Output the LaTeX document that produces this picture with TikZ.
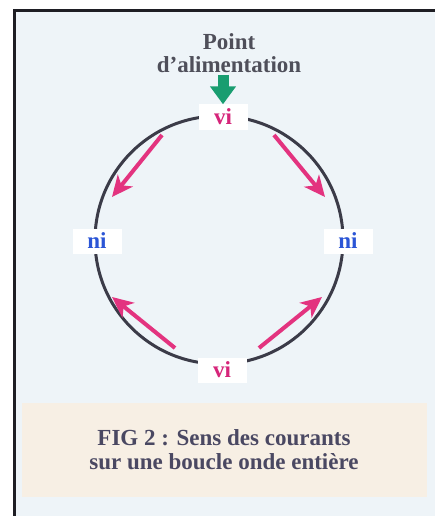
\documentclass[tikz,border=0pt]{standalone}
\usepackage{fontspec}
\setmainfont{Liberation Serif}
\usepackage{tikz}
\usetikzlibrary{arrows.meta, positioning}

\definecolor{panel}{HTML}{EEF4F8}
\definecolor{frameline}{HTML}{1E1E24}
\definecolor{loopgray}{HTML}{3B3B48}
\definecolor{titlegray}{HTML}{4F4F5A}
\definecolor{captext}{HTML}{4A4862}
\definecolor{capbeige}{HTML}{F7EFE4}
\definecolor{vicol}{HTML}{D6257A}
\definecolor{nicol}{HTML}{2B55D6}
\definecolor{rose}{HTML}{E3337F}
\definecolor{feedgreen}{HTML}{199D70}

\begin{document}
\begin{tikzpicture}[
  x=1pt, y=-1pt,
  lbl/.style={fill=white, minimum width=49pt, minimum height=25pt, inner sep=0pt, font=\fontsize{23}{24}\selectfont\bfseries},
  heading/.style={align=center, inner sep=0pt, text=titlegray, font=\fontsize{23}{23}\selectfont\bfseries},
  caption/.style={fill=capbeige, minimum width=405pt, minimum height=94pt, align=center, text=captext, font=\fontsize{23}{24}\selectfont\bfseries},
  current/.style={-{Stealth[length=21pt, width=19pt, inset=6pt]}, line width=4pt, draw=rose},
  feed/.style={-{Triangle[length=18pt, width=25pt]}, line width=11pt, draw=feedgreen}
]
  \useasboundingbox (0,0) rectangle (435,516);
  \fill[panel] (14,11) rectangle (435,516);
  \draw[frameline, line width=3pt] (14,516) -- (14,11) -- (435,11);

  \draw[loopgray, line width=3pt] (219,240) circle[radius=124pt];

  \node[heading] (feedpt) at (229,53) {Point\\d’alimentation};
  \node[lbl, text=vicol] (vitop) at (223,117) {vi};
  \node[lbl, text=vicol] (vibot) at (222,370) {vi};
  \node[lbl, text=nicol] (nileft) at (97,241) {ni};
  \node[lbl, text=nicol] (niright) at (348,241) {ni};
  \node[caption] (figcap) at (224,450) {FIG 2 : Sens des courants\\sur une boucle onde entière};

  \coordinate (feedtail) at (223,75);
  \draw[feed] (feedtail) -- (vitop);

  \coordinate (tlstart) at (162,135);
  \coordinate (tlend) at (112,197);
  \coordinate (trstart) at (274,135);
  \coordinate (trend) at (325,197);
  \coordinate (blstart) at (175,348);
  \coordinate (blend) at (112,297);
  \coordinate (brstart) at (259,348);
  \coordinate (brend) at (322,297);

  \draw[current] (tlstart) -- (tlend);
  \draw[current] (trstart) -- (trend);
  \draw[current] (blstart) -- (blend);
  \draw[current] (brstart) -- (brend);
\end{tikzpicture}
\end{document}
